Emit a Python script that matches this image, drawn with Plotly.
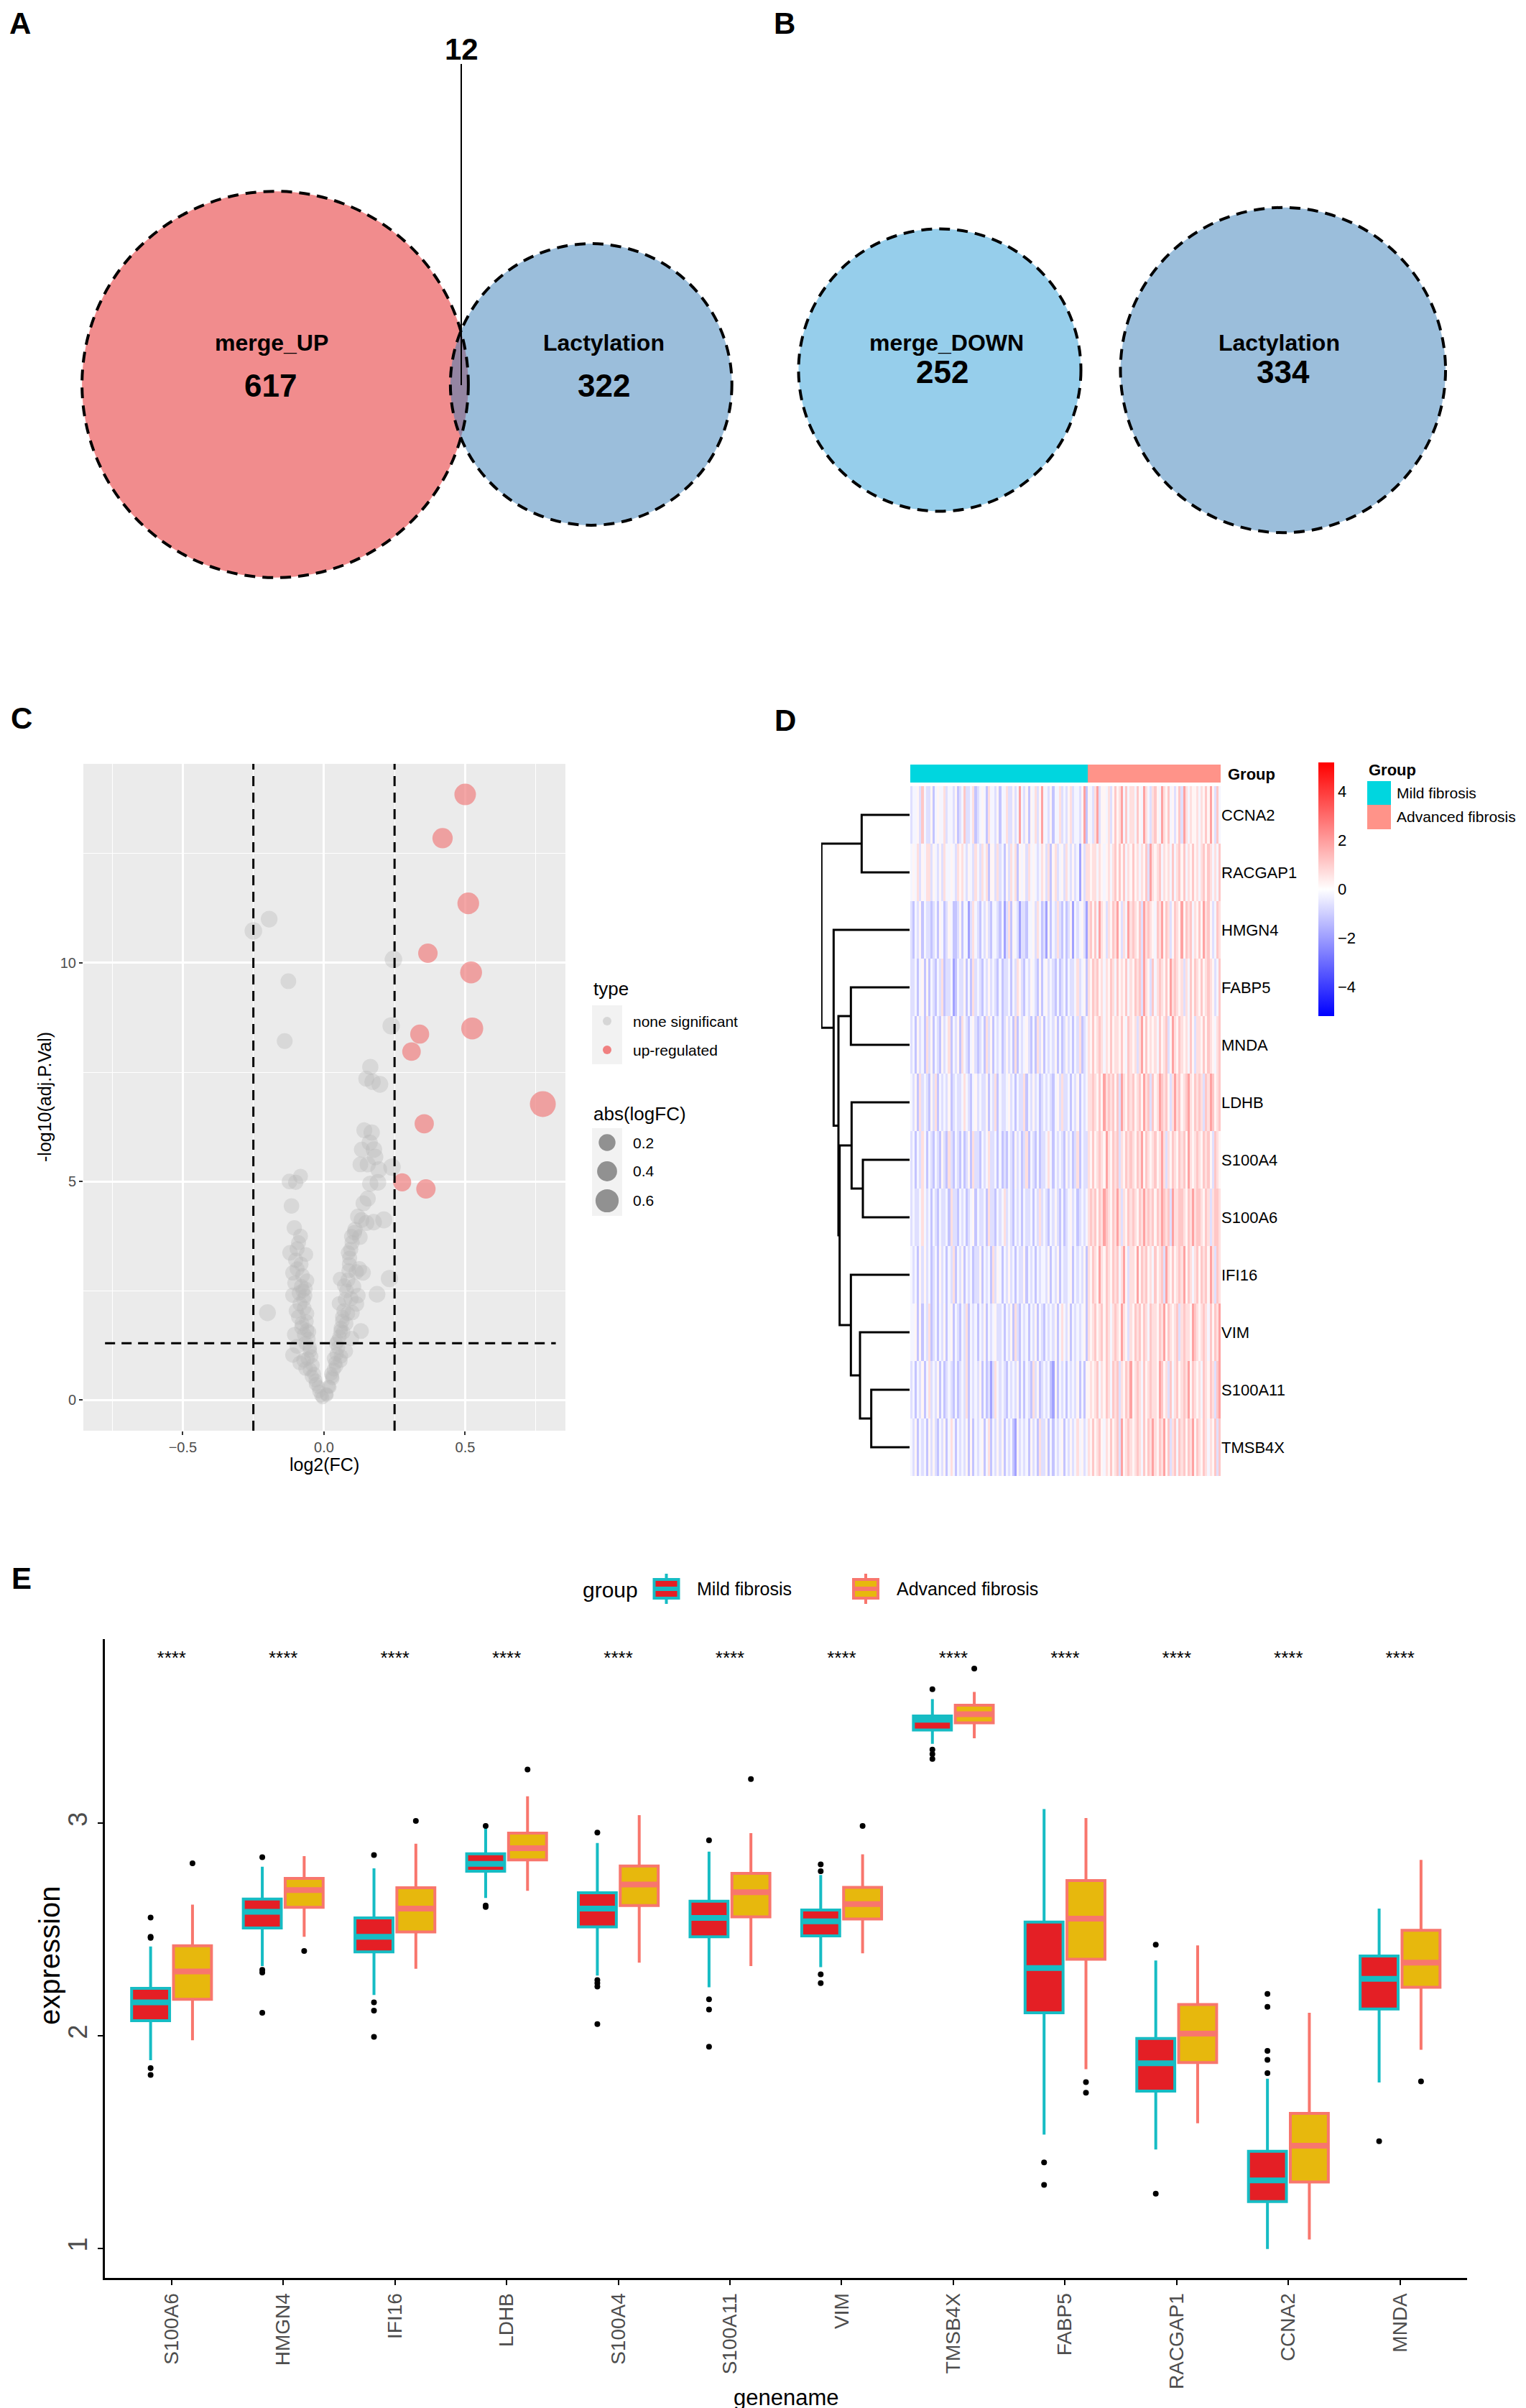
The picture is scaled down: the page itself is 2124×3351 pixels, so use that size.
import math
import plotly.graph_objects as go

W, H = 2124, 3351
FONT = "Liberation Sans, Arial, Helvetica, sans-serif"


def fx(p):
    return p / W


def fy(p):
    return 1 - p / H


# ---------------- Panel A / B : Venn counts ----------------
VENN_A_NAMES = ["merge_UP", "Lactylation"]
VENN_A_ONLY = [617, 322]
VENN_A_SHARED = 12
VENN_B_NAMES = ["merge_DOWN", "Lactylation"]
VENN_B_ONLY = [252, 334]
VENN_B_SHARED = 0

# ---------------- Panel C : volcano ----------------
VOLC_UP_X = [0.500, 0.420, 0.511, 0.368, 0.521, 0.525, 0.339, 0.310, 0.775, 0.355, 0.277, 0.361]
VOLC_UP_Y = [13.85, 12.85, 11.36, 10.22, 9.78, 8.50, 8.37, 7.97, 6.77, 6.32, 4.98, 4.83]

VOLC_NS_X = [-0.250, -0.194, -0.126, -0.139, 0.246, 0.238, 0.164, 0.150, 0.172, 0.198, 0.143, 0.169,
             0.162, 0.134, 0.177, 0.181, 0.129, 0.155, 0.194, 0.241, 0.164, 0.191, 0.155, 0.133,
             0.176, 0.212, 0.150, 0.108, 0.098, 0.127, 0.086, 0.091, 0.088, 0.138, 0.114, 0.057,
             0.072, 0.232, 0.188, 0.120, 0.096, 0.053, 0.084, 0.065, 0.131, 0.059, 0.098, 0.043,
             0.077, 0.060, 0.043, 0.029, 0.017, 0.009,
             -0.122, -0.100, -0.083, -0.115, -0.105, -0.083, -0.095, -0.120, -0.064, -0.081, -0.110,
             -0.076, -0.060, -0.103, -0.088, -0.067, -0.098, -0.060, -0.200, -0.079, -0.053, -0.095,
             -0.110, -0.072, -0.050, -0.065, -0.043, -0.029, -0.017, -0.005,
             -0.010, -0.020, -0.030, -0.035, -0.040, -0.045, -0.050, -0.055, -0.060, -0.062, -0.070,
             -0.072, -0.075, -0.080, -0.085, -0.090, -0.065, -0.070, -0.058, -0.050, -0.095, -0.100,
             -0.090, -0.110, -0.078, -0.066, -0.104, -0.085,
             0.010, 0.020, 0.030, 0.035, 0.040, 0.045, 0.050, 0.055, 0.060, 0.065, 0.070, 0.075,
             0.080, 0.085, 0.090, 0.095, 0.100, 0.110, 0.120, 0.105, 0.115, 0.035, 0.025, 0.048,
             0.068, 0.078, 0.058, 0.140, 0.125, 0.100]
VOLC_NS_Y = [10.73, 11.00, 9.58, 8.21, 10.08, 8.56, 7.62, 7.35, 7.28, 7.22, 6.17, 6.12,
             5.89, 5.73, 5.73, 5.56, 5.39, 5.39, 5.27, 5.33, 4.95, 4.98, 4.61, 4.12,
             4.07, 4.12, 4.05, 3.83, 3.74, 3.73, 3.37, 3.25, 2.96, 2.91, 2.93, 2.77,
             2.62, 2.78, 2.42, 2.39, 2.32, 2.21, 1.98, 1.81, 1.58, 1.58, 1.41, 1.29,
             1.12, 1.00, 0.77, 0.54, 0.31, 0.14,
             5.00, 4.98, 5.12, 4.44, 3.94, 3.75, 3.46, 3.37, 3.33, 3.11, 2.91,
             2.85, 2.73, 2.68, 2.45, 2.39, 2.04, 1.98, 2.00, 1.66, 1.56, 1.23,
             1.03, 0.91, 1.12, 0.72, 0.54, 0.37, 0.20, 0.06,
             0.10, 0.30, 0.45, 0.60, 0.80, 1.00, 1.20, 1.40, 1.60, 1.80, 2.10,
             2.30, 2.50, 2.60, 2.20, 1.90, 1.30, 1.50, 0.95, 0.70, 3.00, 3.20,
             3.60, 2.40, 1.75, 2.55, 1.50, 0.85,
             0.12, 0.30, 0.50, 0.70, 0.85, 1.05, 1.20, 1.45, 1.65, 1.90, 2.05, 2.30,
             2.50, 2.75, 3.10, 3.45, 3.60, 3.90, 4.20, 2.60, 2.20, 0.95, 0.60, 1.35,
             1.55, 1.75, 0.90, 4.50, 3.00, 2.00]
VOLC_SIZE_LEGEND = [0.2, 0.4, 0.6]
FC_CUT = 0.25
P_CUT = 1.301  # -log10(0.05)

# ---------------- Panel D : heatmap ----------------
HEAT_GENES = ["CCNA2", "RACGAP1", "HMGN4", "FABP5", "MNDA", "LDHB",
              "S100A4", "S100A6", "IFI16", "VIM", "S100A11", "TMSB4X"]
N_MILD = 80
N_ADV = 60
HEAT_LEVELS = [-3.0, -1.9, -1.2, -0.65, -0.2, 0.2, 0.65, 1.15, 1.9, 3.1]
HEAT_CCNA2 = ("3445374335 2454463443 5234733462 3454264435 2446335348 4352546358 4435244634 3563443582 "
              "5436835546 3575684746 6475486436 7548657453 5738646556 4657585374")
HEAT_RACGAP1 = ("4546354663 5435364454 3656435436 4364625536 3425364625 4536454346 5362563453 6435341536 "
                "6566465456 4675757465 7564657386 5674656474 6757465756 4675764647")
HEAT_HMGN4 = ("3243524332 3425423542 2352441364 3243532443 2413625431 3324453642 3152436324 2351434531 "
              "6757486536 5768536486 7657386765 4768576357 6585767465 7586753476")
HEAT_FABP5 = ("3342452524 3243623341 2433524263 4324353432 4233424365 3243543252 4534324234 2433463452 "
              "6576756465 7647565746 5767386537 4676575867 6563647576 5756765347")
HEAT_MNDA = ("3425342635 2432534624 3526432453 2342635243 4235342624 3453242635 2434352423 5342436234 "
             "6575676465 7566575476 5636857565 6475673586 5765647536 6575765467")
HEAT_LDHB = ("4352634325 3624343523 4334643245 3433524362 4334534243 3624353423 4343245363 3424352434 "
             "6676575867 6757386576 7567586737 5687675368 6756786576 7637687567")
HEAT_S100A4 = ("3424364243 2432532632 4324235263 3243463342 4232432534 2362432423 3464243432 5342362433 "
               "6575676586 5767365767 6576857656 7568636576 5767586567 6576753765")
HEAT_S100A6 = ("3433464342 4324334263 3243423452 4334263324 3463432434 2433424363 4324353242 3453423434 "
               "6767576876 5768636576 7657686767 5768767386 6776576867 7657636776")
HEAT_IFI16 = ("4342535342 3425342436 2435243423 3524342635 4243534243 3524342434 4352435243 3452434352 "
              "6576586576 5767468536 6585767564 7567386575 6768576467 5767586376")
HEAT_VIM = ("4452524362 3424352452 4324362434 2435243453 3424352632 4342435243 2434352464 3524343452 "
            "6567567576 4676586536 5767576476 6576857656 7367665876 5676475768")
HEAT_S100A11 = ("3424352463 4352423432 4234362434 3524231364 3432434352 4243263523 4342152434 2434352425 "
                "5656746576 4767365768 5676475676 6587563746 7567685765 6476576378")
HEAT_TMSB4X = ("4352434253 5324352464 2434352524 3452462435 3524342153 4342534263 3524243452 4353464534 "
               "6575675465 7567385676 5676475768 6576857367 4767576857 6576465737")
HEAT_ROWS = [HEAT_CCNA2, HEAT_RACGAP1, HEAT_HMGN4, HEAT_FABP5, HEAT_MNDA, HEAT_LDHB,
             HEAT_S100A4, HEAT_S100A6, HEAT_IFI16, HEAT_VIM, HEAT_S100A11, HEAT_TMSB4X]
# hierarchical clustering merges (left id, right id, height); leaves 0..11 in HEAT_GENES order
DENDRO_MERGES = [(10, 11, 160), (6, 7, 195), (0, 1, 200), (9, 12, 207), (5, 13, 242),
                 (3, 4, 245), (8, 15, 245), (16, 18, 292), (17, 19, 297), (2, 20, 317), (14, 21, 368)]

# ---------------- Panel E : boxplots ----------------
BOX_GENES = ["S100A6", "HMGN4", "IFI16", "LDHB", "S100A4", "S100A11",
             "VIM", "TMSB4X", "FABP5", "RACGAP1", "CCNA2", "MNDA"]
MILD_Q1 = [2.071, 2.507, 2.394, 2.774, 2.512, 2.465, 2.470, 3.438, 2.108, 1.740, 1.220, 2.126]
MILD_MED = [2.157, 2.583, 2.465, 2.808, 2.598, 2.554, 2.538, 3.486, 2.318, 1.871, 1.320, 2.268]
MILD_Q3 = [2.223, 2.643, 2.554, 2.856, 2.672, 2.633, 2.591, 3.504, 2.535, 1.987, 1.457, 2.375]
MILD_LO = [1.885, 2.328, 2.192, 2.648, 2.283, 2.228, 2.323, 3.373, 1.535, 1.465, 0.997, 1.780]
MILD_HI = [2.420, 2.795, 2.787, 2.979, 2.906, 2.866, 2.756, 3.583, 3.066, 2.354, 1.798, 2.598]
MILD_OUT = [[2.556, 2.465, 2.460, 1.848, 1.816], [2.840, 2.310, 2.297, 2.108],
            [2.850, 2.157, 2.118, 1.995], [2.987, 2.612, 2.606],
            [2.955, 2.262, 2.247, 2.231, 2.055], [2.919, 2.171, 2.123, 1.948],
            [2.806, 2.774, 2.289, 2.247], [3.630, 3.346, 3.325, 3.302],
            [1.404, 1.299], [2.428, 1.257], [2.197, 2.136, 1.929, 1.887, 1.824], [1.504]]
ADV_Q1 = [2.171, 2.604, 2.488, 2.827, 2.612, 2.559, 2.549, 3.472, 2.360, 1.874, 1.312, 2.228]
ADV_MED = [2.302, 2.685, 2.598, 2.882, 2.711, 2.675, 2.619, 3.512, 2.551, 2.010, 1.483, 2.344]
ADV_Q3 = [2.423, 2.740, 2.696, 2.953, 2.798, 2.764, 2.698, 3.554, 2.730, 2.147, 1.635, 2.496]
ADV_LO = [1.979, 2.465, 2.315, 2.682, 2.344, 2.328, 2.388, 3.399, 1.843, 1.588, 1.042, 1.934]
ADV_HI = [2.617, 2.845, 2.903, 3.126, 3.037, 2.953, 2.853, 3.617, 3.024, 2.425, 2.108, 2.827]
ADV_OUT = [[2.811], [2.399], [3.010], [3.252], [], [3.207], [2.987], [3.727],
           [1.782, 1.732], [], [], [1.785]]
SIG_LABELS = ["****"] * 12
SIG_Y = 3.77

# ======================================================================
fig = go.Figure()
shapes = []
annos = []

# ---------- Venn (A, B) on a pixel-scaled axis ----------
K_A, K_B = 10.72, 12.38
rA = [K_A * math.sqrt(n + VENN_A_SHARED) for n in VENN_A_ONLY]
rB = [K_B * math.sqrt(n + VENN_B_SHARED) for n in VENN_B_ONLY]
cA = [(375, 527), (375 + rA[0] + rA[1] - 25, 527)]
cB = [(1300, 507), (1300 + rB[0] + rB[1] + 55, 507)]
venn_fill = ["rgba(228,26,28,0.5)", "rgba(55,126,184,0.5)",
             "rgba(46,158,216,0.5)", "rgba(55,126,184,0.5)"]
circles = [(cA[0], rA[0]), (cA[1], rA[1]), (cB[0], rB[0]), (cB[1], rB[1])]
for (c, r), col in zip(circles, venn_fill):
    shapes.append(dict(type="circle", xref="x", yref="y", x0=c[0] - r, x1=c[0] + r,
                       y0=c[1] - r, y1=c[1] + r, fillcolor=col, line=dict(width=0)))
for c, r in circles:
    shapes.append(dict(type="circle", xref="x", yref="y", x0=c[0] - r, x1=c[0] + r,
                       y0=c[1] - r, y1=c[1] + r, fillcolor="rgba(0,0,0,0)",
                       line=dict(color="black", width=4, dash="15px,10px")))
shapes.append(dict(type="line", xref="x", yref="y", x0=634, x1=634, y0=81, y1=528,
                   line=dict(color="black", width=2)))

venn_text = [
    (370, 469, VENN_A_NAMES[0], 32), (368, 528, str(VENN_A_ONLY[0]), 44),
    (832, 469, VENN_A_NAMES[1], 32), (832, 528, str(VENN_A_ONLY[1]), 44),
    (1309, 469, VENN_B_NAMES[0], 32), (1303, 509, str(VENN_B_ONLY[0]), 44),
    (1772, 469, VENN_B_NAMES[1], 32), (1778, 509, str(VENN_B_ONLY[1]), 44),
    (634, 60, str(VENN_A_SHARED), 42),
]
for x, y, t, s in venn_text:
    annos.append(dict(xref="x", yref="y", x=x, y=y, text="<b>%s</b>" % t, showarrow=False,
                      font=dict(size=s, color="black", family=FONT), xanchor="center", yanchor="middle"))
fig.add_trace(go.Scatter(x=[0, W], y=[0, 850], mode="markers", marker=dict(opacity=0),
                         xaxis="x", yaxis="y", showlegend=False, hoverinfo="skip"))

# ---------- Volcano (C) ----------
def size_of(v):
    return 19 + 22 * abs(v)

fig.add_trace(go.Scatter(x=VOLC_NS_X, y=VOLC_NS_Y, mode="markers", xaxis="x2", yaxis="y2",
                         marker=dict(size=[size_of(v) for v in VOLC_NS_X], color="rgba(185,185,185,0.55)",
                                     line=dict(width=0)),
                         showlegend=False, name="none significant"))
fig.add_trace(go.Scatter(x=VOLC_UP_X, y=VOLC_UP_Y, mode="markers", xaxis="x2", yaxis="y2",
                         marker=dict(size=[size_of(v) for v in VOLC_UP_X], color="rgba(240,128,128,1)",
                                     line=dict(width=0)),
                         showlegend=False, name="up-regulated"))
shapes.append(dict(type="rect", xref="x2 domain", yref="y2 domain", x0=0, x1=1, y0=0, y1=1,
                   fillcolor="#EBEBEB", line=dict(width=0), layer="below"))
for xv in (-FC_CUT, FC_CUT):
    shapes.append(dict(type="line", xref="x2", yref="y2 domain", x0=xv, x1=xv, y0=0, y1=1,
                       line=dict(color="black", width=3, dash="14px,9px")))
shapes.append(dict(type="line", xref="x2 domain", yref="y2", x0=0.045, x1=0.98, y0=P_CUT, y1=P_CUT,
                   line=dict(color="black", width=3, dash="14px,9px")))

annos.append(dict(xref="paper", yref="paper", x=fx(816), y=fy(1368), text="type", showarrow=False,
                  xanchor="left", yanchor="middle", font=dict(size=26, color="black")))
shapes.append(dict(type="rect", xref="paper", yref="paper", x0=fx(816), x1=fx(858), y0=fy(1473), y1=fy(1391),
                   fillcolor="#F2F2F2", line=dict(width=0)))
for yy, col, lab in [(1413, "#D6D6D6", "none significant"), (1453, "#F08080", "up-regulated")]:
    d = 12
    shapes.append(dict(type="circle", xref="paper", yref="paper", x0=fx(837 - d / 2), x1=fx(837 + d / 2),
                       y0=fy(yy + d / 2), y1=fy(yy - d / 2), fillcolor=col, line=dict(width=0)))
    annos.append(dict(xref="paper", yref="paper", x=fx(871), y=fy(yy), text=lab, showarrow=False,
                      xanchor="left", yanchor="middle", font=dict(size=21, color="black")))
annos.append(dict(xref="paper", yref="paper", x=fx(816), y=fy(1542), text="abs(logFC)", showarrow=False,
                  xanchor="left", yanchor="middle", font=dict(size=26, color="black")))
shapes.append(dict(type="rect", xref="paper", yref="paper", x0=fx(816), x1=fx(858), y0=fy(1684), y1=fy(1562),
                   fillcolor="#F2F2F2", line=dict(width=0)))
for yy, v in zip([1582, 1622, 1663], VOLC_SIZE_LEGEND):
    d = size_of(v)
    shapes.append(dict(type="circle", xref="paper", yref="paper", x0=fx(837 - d / 2), x1=fx(837 + d / 2),
                       y0=fy(yy + d / 2), y1=fy(yy - d / 2), fillcolor="#919191", line=dict(width=0)))
    annos.append(dict(xref="paper", yref="paper", x=fx(871), y=fy(yy), text="%.1f" % v, showarrow=False,
                      xanchor="left", yanchor="middle", font=dict(size=21, color="black")))
annos.append(dict(xref="paper", yref="paper", x=fx(443), y=fy(2030), text="log2(FC)", showarrow=False,
                  xanchor="center", yanchor="middle", font=dict(size=25, color="black")))
annos.append(dict(xref="paper", yref="paper", x=fx(54), y=fy(1519), text="-log10(adj.P.Val)", showarrow=False,
                  textangle=-90, xanchor="center", yanchor="middle", font=dict(size=25, color="black")))

# ---------- Heatmap (D) ----------
rows = [r.replace(" ", "") for r in HEAT_ROWS]
ncol = N_MILD + N_ADV
for g, r in zip(HEAT_GENES, rows):
    if len(r) != ncol:
        raise ValueError("row %s has %d columns" % (g, len(r)))
z = [[HEAT_LEVELS[int(ch)] for ch in r] for r in rows]
cols = list(range(ncol))
fig.add_trace(go.Heatmap(z=z, x=cols, y=list(range(len(HEAT_GENES))), xaxis="x3", yaxis="y3",
                         colorscale=[[0, "#0000FF"], [0.5, "#FFFFFF"], [1, "#FF0000"]],
                         zmin=-5.2, zmax=5.2, xgap=0, ygap=0,
                         colorbar=dict(x=fx(1827), xanchor="left", y=fy((1053 + 1406) / 2), yanchor="middle",
                                       len=353 / H, lenmode="fraction", thickness=22, thicknessmode="pixels",
                                       tickvals=[-4, -2, 0, 2, 4], ticks="", outlinewidth=0, xpad=0, ypad=0,
                                       tickfont=dict(size=22, color="black"))))
group_codes = [0] * N_MILD + [1] * N_ADV
fig.add_trace(go.Heatmap(z=[group_codes], x=cols, y=[0], xaxis="x4", yaxis="y4", showscale=False,
                         colorscale=[[0, "#00D6DF"], [0.5, "#00D6DF"], [0.5, "#FF9389"], [1, "#FF9389"]],
                         zmin=0, zmax=1, hoverinfo="skip"))
annos.append(dict(xref="paper", yref="paper", x=fx(1699), y=fy(1069), text="<b>Group</b>", showarrow=False,
                  xanchor="left", yanchor="middle", font=dict(size=22, color="black")))
annos.append(dict(xref="paper", yref="paper", x=fx(1895), y=fy(1063), text="<b>Group</b>", showarrow=False,
                  xanchor="left", yanchor="middle", font=dict(size=22, color="black")))
for (y0, y1, col, lab) in [(1079, 1112, "#00D6DF", "Mild fibrosis"), (1112, 1146, "#FF9389", "Advanced fibrosis")]:
    shapes.append(dict(type="rect", xref="paper", yref="paper", x0=fx(1895), x1=fx(1928), y0=fy(y1), y1=fy(y0),
                       fillcolor=col, line=dict(width=0)))
    annos.append(dict(xref="paper", yref="paper", x=fx(1934), y=fy((y0 + y1) / 2), text=lab, showarrow=False,
                      xanchor="left", yanchor="middle", font=dict(size=21, color="black")))

pos = {i: float(i) for i in range(len(HEAT_GENES))}
hgt = {i: 0.0 for i in range(len(HEAT_GENES))}
dx, dy = [], []
nid = len(HEAT_GENES)
for a, b, h in DENDRO_MERGES:
    dx += [hgt[a], h, h, hgt[b], None]
    dy += [pos[a], pos[a], pos[b], pos[b], None]
    pos[nid] = (pos[a] + pos[b]) / 2
    hgt[nid] = h
    nid += 1
fig.add_trace(go.Scatter(x=dx, y=dy, mode="lines", line=dict(color="black", width=3),
                         xaxis="x5", yaxis="y5", showlegend=False, hoverinfo="skip"))

# ---------- Boxplots (E) ----------
OFF = 0.1875
BW = 0.34
C_MILD_FILL, C_MILD_LINE = "#E41F25", "#16BCC4"
C_ADV_FILL, C_ADV_LINE = "#E7B80D", "#F8766D"
pos_m = [i + 1 - OFF for i in range(len(BOX_GENES))]
pos_a = [i + 1 + OFF for i in range(len(BOX_GENES))]
fig.add_trace(go.Box(x=pos_m, q1=MILD_Q1, median=MILD_MED, q3=MILD_Q3, lowerfence=MILD_LO, upperfence=MILD_HI,
                     width=BW, fillcolor=C_MILD_FILL, line=dict(color=C_MILD_LINE, width=4), whiskerwidth=0,
                     boxpoints=False, xaxis="x6", yaxis="y6", showlegend=False, name="Mild fibrosis"))
fig.add_trace(go.Box(x=pos_a, q1=ADV_Q1, median=ADV_MED, q3=ADV_Q3, lowerfence=ADV_LO, upperfence=ADV_HI,
                     width=BW, fillcolor=C_ADV_FILL, line=dict(color=C_ADV_LINE, width=4), whiskerwidth=0,
                     boxpoints=False, xaxis="x6", yaxis="y6", showlegend=False, name="Advanced fibrosis"))
for ps, med, col in [(pos_m, MILD_MED, C_MILD_LINE), (pos_a, ADV_MED, C_ADV_LINE)]:
    mx, my = [], []
    for p, m in zip(ps, med):
        mx += [p - BW / 2, p + BW / 2, None]
        my += [m, m, None]
    fig.add_trace(go.Scatter(x=mx, y=my, mode="lines", line=dict(color=col, width=8),
                             xaxis="x6", yaxis="y6", showlegend=False, hoverinfo="skip"))
for ps, outs in [(pos_m, MILD_OUT), (pos_a, ADV_OUT)]:
    ox, oy = [], []
    for p, o in zip(ps, outs):
        ox += [p] * len(o)
        oy += o
    fig.add_trace(go.Scatter(x=ox, y=oy, mode="markers", marker=dict(color="black", size=8),
                             xaxis="x6", yaxis="y6", showlegend=False))
fig.add_trace(go.Scatter(x=list(range(1, len(BOX_GENES) + 1)), y=[SIG_Y] * len(BOX_GENES), text=SIG_LABELS,
                         mode="text", textfont=dict(size=26, color="black"), xaxis="x6", yaxis="y6",
                         showlegend=False, hoverinfo="skip"))

annos.append(dict(xref="paper", yref="paper", x=fx(801), y=fy(2204), text="group", showarrow=False,
                  xanchor="left", yanchor="middle", font=dict(size=30, color="black")))
for cx, fill, line, lab, tx in [(919.5, C_MILD_FILL, C_MILD_LINE, "Mild fibrosis", 960),
                                (1197, C_ADV_FILL, C_ADV_LINE, "Advanced fibrosis", 1238)]:
    shapes.append(dict(type="line", xref="paper", yref="paper", x0=fx(cx), x1=fx(cx), y0=fy(2224), y1=fy(2182),
                       line=dict(color=line, width=4)))
    shapes.append(dict(type="rect", xref="paper", yref="paper", x0=fx(cx - 17), x1=fx(cx + 17), y0=fy(2216),
                       y1=fy(2190), fillcolor=fill, line=dict(color=line, width=4)))
    shapes.append(dict(type="line", xref="paper", yref="paper", x0=fx(cx - 17), x1=fx(cx + 17), y0=fy(2203),
                       y1=fy(2203), line=dict(color=line, width=6)))
    annos.append(dict(xref="paper", yref="paper", x=fx(tx), y=fy(2203), text=lab, showarrow=False,
                      xanchor="left", yanchor="middle", font=dict(size=25, color="black")))
annos.append(dict(xref="paper", yref="paper", x=fx(61), y=fy(2714), text="expression", showarrow=False,
                  textangle=-90, xanchor="center", yanchor="middle", font=dict(size=40, color="black")))
annos.append(dict(xref="paper", yref="paper", x=fx(1086), y=fy(3328), text="genename", showarrow=False,
                  xanchor="center", yanchor="middle", font=dict(size=31, color="black")))

for lab, x, y in [("A", 20, 24), ("B", 1084, 24), ("C", 22, 992), ("D", 1085, 995), ("E", 22, 2188)]:
    annos.append(dict(xref="paper", yref="paper", x=fx(x), y=fy(y), text="<b>%s</b>" % lab, showarrow=False,
                      xanchor="center", yanchor="middle", font=dict(size=42, color="black")))

hidden = dict(visible=False, showgrid=False, zeroline=False, fixedrange=True)
fig.update_layout(
    width=W, height=H, margin=dict(l=0, r=0, t=0, b=0, pad=0),
    paper_bgcolor="white", plot_bgcolor="rgba(0,0,0,0)",
    font=dict(family=FONT, color="black"), showlegend=False,
    shapes=shapes, annotations=annos,
    xaxis=dict(domain=[0, 1], range=[0, W], anchor="y", **hidden),
    yaxis=dict(domain=[fy(850), 1], range=[850, 0], anchor="x", **hidden),
    xaxis2=dict(domain=[fx(108), fx(779)], range=[-0.852, 0.855], anchor="y2", dtick=0.5, tick0=0,
                tickformat=".1f", showgrid=True, gridcolor="white", gridwidth=2.6, zeroline=False,
                minor=dict(dtick=0.25, tick0=0, showgrid=True, gridcolor="white", gridwidth=1.3, ticks=""),
                ticks="outside", ticklen=5, tickwidth=1.5, tickcolor="#333333",
                tickfont=dict(size=20, color="#4D4D4D"), showline=False),
    yaxis2=dict(domain=[fy(1983), fy(1055)], range=[-0.7, 14.55], anchor="x2", dtick=5, tick0=0,
                showgrid=True, gridcolor="white", gridwidth=2.6, zeroline=False,
                minor=dict(dtick=2.5, tick0=0, showgrid=True, gridcolor="white", gridwidth=1.3, ticks=""),
                ticks="outside", ticklen=5, tickwidth=1.5, tickcolor="#333333",
                tickfont=dict(size=20, color="#4D4D4D"), showline=False),
    xaxis3=dict(domain=[fx(1259), fx(1691)], range=[-0.5, ncol - 0.5], anchor="y3", **hidden),
    yaxis3=dict(domain=[fy(2046), fy(1086)], range=[len(HEAT_GENES) - 0.5, -0.5], anchor="x3", side="right",
                tickvals=list(range(len(HEAT_GENES))), ticktext=HEAT_GENES, ticks="", showgrid=False,
                zeroline=False, showline=False, tickfont=dict(size=22, color="black"), fixedrange=True),
    xaxis4=dict(domain=[fx(1259), fx(1691)], range=[-0.5, ncol - 0.5], anchor="y4", **hidden),
    yaxis4=dict(domain=[fy(1081), fy(1056)], range=[-0.5, 0.5], anchor="x4", **hidden),
    xaxis5=dict(domain=[fx(1135), fx(1258)], range=[369, 0], anchor="y5", **hidden),
    yaxis5=dict(domain=[fy(2046), fy(1086)], range=[len(HEAT_GENES) - 0.5, -0.5], anchor="x5", **hidden),
    xaxis6=dict(domain=[fx(137.5), fx(2034)], range=[0.4, 12.6], anchor="y6",
                tickvals=list(range(1, len(BOX_GENES) + 1)), ticktext=BOX_GENES, tickangle=-90,
                ticks="outside", ticklen=7, tickwidth=2, tickcolor="black", showline=True, linecolor="black",
                linewidth=3, showgrid=False, zeroline=False, tickfont=dict(size=28, color="#4D4D4D")),
    yaxis6=dict(domain=[fy(3162), fy(2272.5)], range=[0.861, 3.867], anchor="x6", tickvals=[1, 2, 3],
                tickangle=-90, ticks="outside", ticklen=7, tickwidth=2, tickcolor="black", showline=True,
                linecolor="black", linewidth=3, showgrid=False, zeroline=False,
                tickfont=dict(size=36, color="#4D4D4D")),
)

fig.write_html("out.html")
